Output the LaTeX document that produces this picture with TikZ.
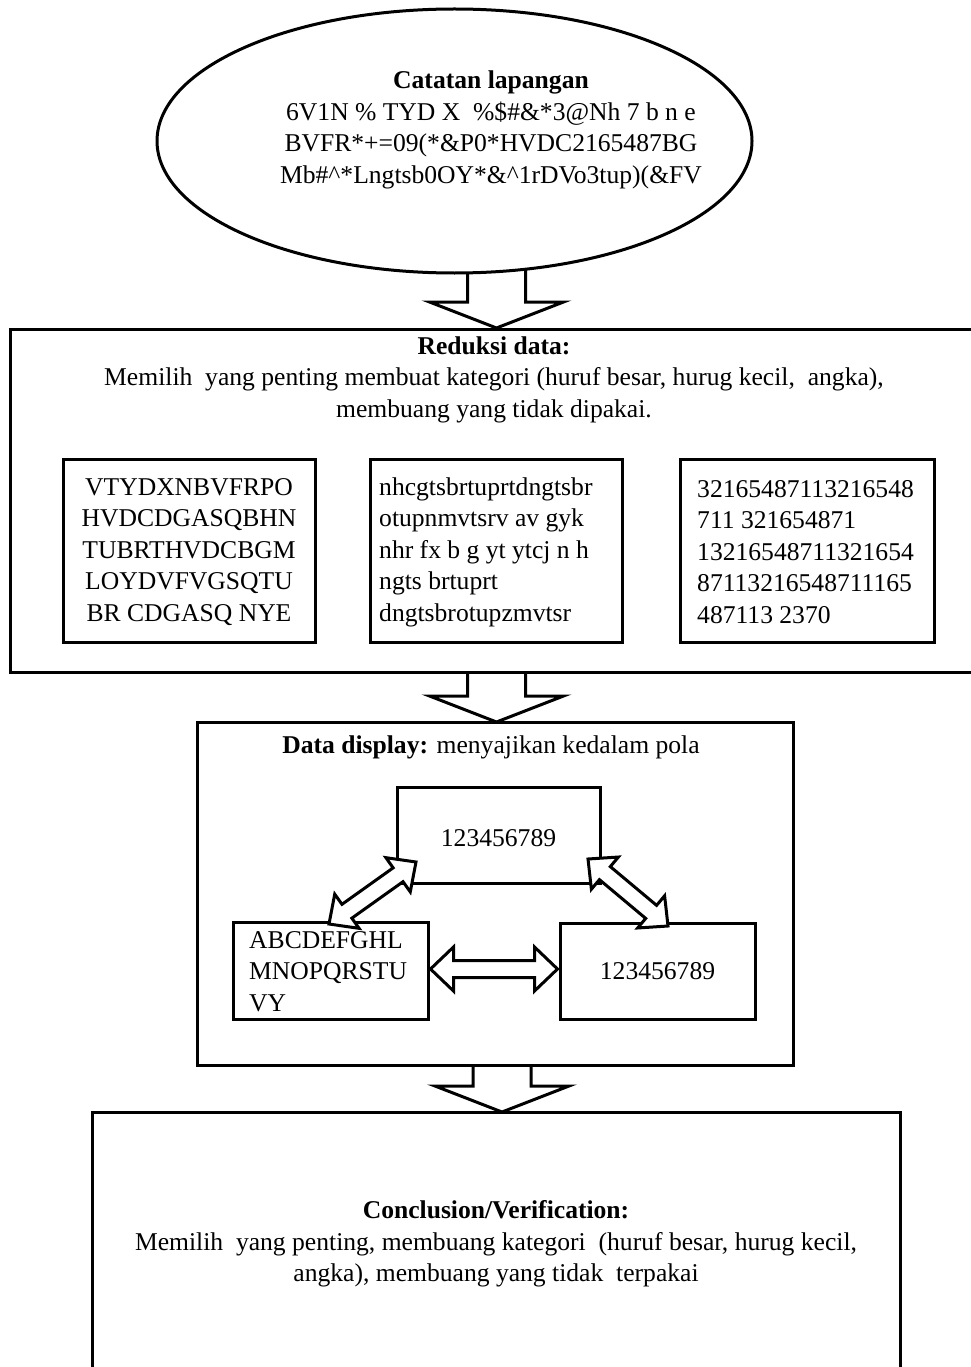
\documentclass[tikz,border=0pt]{standalone}
\usepackage{fontspec}
\setmainfont{Liberation Serif}
\usetikzlibrary{calc,shapes.geometric}
\newcommand\fatdbl[5]{% #1,#2 ends; #3 head length; #4 head half width; #5 shaft half width
  \coordinate (#1h) at ($(#1)!#3!(#2)$);
  \coordinate (#2h) at ($(#2)!#3!(#1)$);
  \draw[blockarrow] (#1) -- ($(#1h)!#4!90:(#2)$) -- ($(#1h)!#5!90:(#2)$)
    -- ($(#2h)!#5!-90:(#1)$) -- ($(#2h)!#4!-90:(#1)$) -- (#2)
    -- ($(#2h)!#4!90:(#1)$) -- ($(#2h)!#5!90:(#1)$)
    -- ($(#1h)!#5!-90:(#2)$) -- ($(#1h)!#4!-90:(#2)$) -- cycle;}
\begin{document}
\begin{tikzpicture}[x=1pt,y=-1pt,
  box/.style={draw,line width=3pt,fill=white,inner sep=0pt,rectangle},
  blockarrow/.style={draw,line width=3pt,fill=white,line join=miter},
  txt/.style={font=\fontsize{25.6}{31.5}\selectfont,inner sep=0pt},
]
\useasboundingbox (0,0) rectangle (971,1367);
\clip (0,0) rectangle (971,1367);

% tips of the down arrows
\coordinate (t1) at (496.5,328);
\coordinate (t2) at (496.5,722);
\coordinate (t3) at (502,1112);

% down block arrows (drawn first, shafts hidden by the boxes)
\foreach \t in {t1,t2,t3}{
  \draw[blockarrow] ($(\t)+(-29,-90)$) |- ($(\t)+(-67,-26)$) -- (\t)
    -- ($(\t)+(67,-26)$) -| ($(\t)+(29,-90)$);
}

% Catatan lapangan
\node[draw,ellipse,line width=3pt,fill=white,minimum width=595,minimum height=264,inner sep=0pt] (cat) at (454.5,141) {};
\node[txt,align=center] (cattxt) at (491,130) {\textbf{Catatan lapangan}\\
6V1N \% TYD X\ \ \%\$\#\&*3@Nh 7 b n e\\
BVFR*+=09(*\&P0*HVDC2165487BG\\
Mb\#\textasciicircum{}*Lngtsb0OY*\&\textasciicircum{}1rDVo3tup)(\&FV};

% Reduksi data
\node[box,minimum width=975,minimum height=343] (red) at (497.5,500.5) {};
\node[txt,align=center] (redtxt) at (494,379.5) {\textbf{Reduksi data:}\\
Memilih\ \ yang penting membuat kategori (huruf besar, hurug kecil,\ \ angka),\\
membuang yang tidak dipakai.};

\node[box,minimum width=252,minimum height=183] (b1) at (189,550.5) {};
\node[box,minimum width=252,minimum height=183] (b2) at (496,550.5) {};
\node[box,minimum width=254,minimum height=183] (b3) at (807,550.5) {};
\node[txt,align=center] (b1txt) at (189,552) {VTYDXNBVFRPO\\HVDCDGASQBHN\\TUBRTHVDCBGM\\LOYDVFVGSQTU\\BR CDGASQ NYE};
\node[txt,align=left,anchor=west] (b2txt) at (379,552) {nhcgtsbrtuprtdngtsbr\\otupnmvtsrv av gyk\\nhr fx b g yt ytcj n h\\ngts brtuprt\\dngtsbrotupzmvtsr};
\node[txt,align=left,anchor=west] (b3txt) at (697,552) {32165487113216548\\711 321654871\\13216548711321654\\87113216548711165\\487113 2370};

% Data display
\node[box,minimum width=596,minimum height=343] (dd) at (495,893.5) {};
\node[txt] (ddtxt) at (491,747) {\textbf{Data display:} menyajikan kedalam pola};
\node[box,minimum width=203,minimum height=96] (top) at (498.5,835) {};
\node[txt] (toptxt) at (498.5,838) {123456789};
\node[box,minimum width=195,minimum height=97] (lb) at (330.5,970.5) {};
\node[txt,align=left,anchor=west] (lbtxt) at (249,971.5) {ABCDEFGHL\\MNOPQRSTU\\VY};
\node[box,minimum width=195,minimum height=96] (rb) at (657.5,971) {};
\node[txt] (rbtxt) at (657.5,971) {123456789};

\coordinate (h1) at ($(lb.east)+(1,-1.5)$);
\coordinate (h2) at ($(rb.west)+(-1,-2)$);
\coordinate (d1a) at (329,924);
\coordinate (d1b) at (416,862);
\coordinate (d2a) at (588,859);
\coordinate (d2b) at (668,926);
\fatdbl{h1}{h2}{23pt}{22pt}{8.5pt}
\fatdbl{d1a}{d1b}{22pt}{21pt}{8.5pt}
\fatdbl{d2a}{d2b}{22pt}{21pt}{8.5pt}

% Conclusion
\node[box,minimum width=808,minimum height=300] (con) at (496,1262) {};
\node[txt,align=center] (contxt) at (496,1244) {\textbf{Conclusion/Verification:}\\
Memilih\ \ yang penting, membuang kategori\ \ (huruf besar, hurug kecil,\\
angka), membuang yang tidak\ \ terpakai};
\end{tikzpicture}
\end{document}
